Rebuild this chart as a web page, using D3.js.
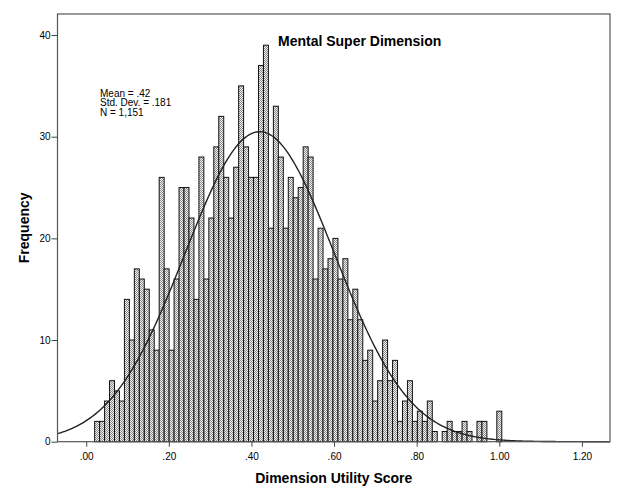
<!DOCTYPE html>
<html>
<head>
<meta charset="utf-8">
<script src="https://cdn.jsdelivr.net/npm/d3@7"></script>
<style>
  body { margin: 0; background: #fff; }
  text { font-family: "Liberation Sans", Arial, sans-serif; }
</style>
</head>
<body>
<div id="chart"></div>
<script>
// Histogram counts, one per bin (left to right).
const counts = [
  2, 2, 4, 6, 5, 4, 14, 10, 17, 16,
  15, 11, 9, 26, 17, 9, 16, 25, 25, 22,
  14, 28, 16, 22, 29, 32, 26, 22, 27, 35,
  29, 26, 26, 37, 39, 21, 33, 28, 21, 26,
  24, 25, 29, 28, 16, 21, 17, 18, 20, 16,
  18, 12, 15, 12, 8, 9, 4, 6, 10, 6,
  8, 2, 4, 6, 2, 3, 2, 4, 1, 0,
  1, 2, 1, 1, 2, 1, 0, 2, 2, 0,
  0, 3
];
// Bin layout of the histogram
const firstEdge = 0.0204;
const binWidth = 0.01202;

// Summary stats shown in the chart
const stats = {mean: 0.42, sd: 0.181, n: 1151};
const statLines = ['Mean = .42', 'Std. Dev. = .181', 'N = 1,151'];

const xTicks = [0, 0.2, 0.4, 0.6, 0.8, 1.0, 1.2];
const yTicks = [0, 10, 20, 30, 40];

const title = 'Mental Super Dimension';
const xTitle = 'Dimension Utility Score';
const yTitle = 'Frequency';

const width = 619;
const height = 490;
const plot = {left: 57.5, right: 610, top: 14, bottom: 441.7};

const svg = d3.select('#chart')
  .append('svg')
  .attr('width', width)
  .attr('height', height);

// Dotted fill like the SPSS bars
const pat = svg.append('defs').append('pattern')
  .attr('id', 'dots')
  .attr('patternUnits', 'userSpaceOnUse')
  .attr('width', 2)
  .attr('height', 2);
pat.append('rect').attr('width', 2).attr('height', 2).attr('fill', '#f2f2f2');
pat.append('rect').attr('width', 1).attr('height', 1).attr('fill', '#8a8a8a');
pat.append('rect').attr('x', 1).attr('y', 1).attr('width', 1).attr('height', 1).attr('fill', '#8a8a8a');

const x = d3.scaleLinear()
  .domain([-0.0695, 1.268])
  .range([plot.left, plot.right]);
const y = d3.scaleLinear()
  .domain([0, 42.07])
  .range([plot.bottom, plot.top]);

// Bars
const bins = counts.map((c, i) => ({x0: firstEdge + i * binWidth, x1: firstEdge + (i + 1) * binWidth, c}));
svg.append('g')
  .selectAll('rect')
  .data(bins.filter(d => d.c > 0))
  .enter()
  .append('rect')
  .attr('x', d => x(d.x0))
  .attr('y', d => y(d.c))
  .attr('width', d => x(d.x1) - x(d.x0))
  .attr('height', d => y(0) - y(d.c))
  .attr('fill', 'url(#dots)')
  .attr('stroke', '#111')
  .attr('stroke-width', 1);

// Normal curve fitted to the data
const pdf = v => Math.exp(-0.5 * Math.pow((v - stats.mean) / stats.sd, 2)) / (stats.sd * Math.sqrt(2 * Math.PI));
const curveX = d3.range(0, 301).map(i => x.domain()[0] + i * (x.domain()[1] - x.domain()[0]) / 300);
svg.append('path')
  .datum(curveX)
  .attr('d', d3.line()
    .x(d => x(d))
    .y(d => y(stats.n * binWidth * pdf(d))))
  .attr('fill', 'none')
  .attr('stroke', '#222')
  .attr('stroke-width', 1.4);

// Frame
svg.append('rect')
  .attr('x', plot.left)
  .attr('y', plot.top)
  .attr('width', plot.right - plot.left)
  .attr('height', plot.bottom - plot.top)
  .attr('fill', 'none')
  .attr('stroke', '#555')
  .attr('stroke-width', 1.2);

// Axes
const fmt = d => d3.format('.2f')(d).replace(/^0/, '');
const xAxis = svg.append('g')
  .attr('transform', `translate(0,${plot.bottom})`)
  .call(d3.axisBottom(x).tickValues(xTicks).tickFormat(fmt).tickSize(5).tickPadding(6));
const yAxis = svg.append('g')
  .attr('transform', `translate(${plot.left},0)`)
  .call(d3.axisLeft(y).tickValues(yTicks).tickSize(6).tickPadding(1));
[xAxis, yAxis].forEach(a => {
  a.select('.domain').remove();
  a.selectAll('line').attr('stroke', '#444');
  a.selectAll('text').style('font-size', '10px').attr('fill', '#000');
});

// Titles
svg.append('text')
  .text(title)
  .attr('x', 278)
  .attr('y', 46)
  .style('font-size', '14px')
  .style('font-weight', 'bold');

svg.append('text')
  .text(xTitle)
  .attr('x', (plot.left + plot.right) / 2)
  .attr('y', 483)
  .style('text-anchor', 'middle')
  .style('font-size', '14px')
  .style('font-weight', 'bold');

svg.append('text')
  .text(yTitle)
  .attr('transform', `translate(29,${(plot.top + plot.bottom) / 2}) rotate(-90)`)
  .style('text-anchor', 'middle')
  .style('font-size', '14px')
  .style('font-weight', 'bold');

// Stats box text
svg.append('g')
  .selectAll('text')
  .data(statLines)
  .enter()
  .append('text')
  .text(d => d)
  .attr('x', 100)
  .attr('y', (d, i) => 96.5 + i * 9.6)
  .style('font-size', '10px');
</script>
</body>
</html>
